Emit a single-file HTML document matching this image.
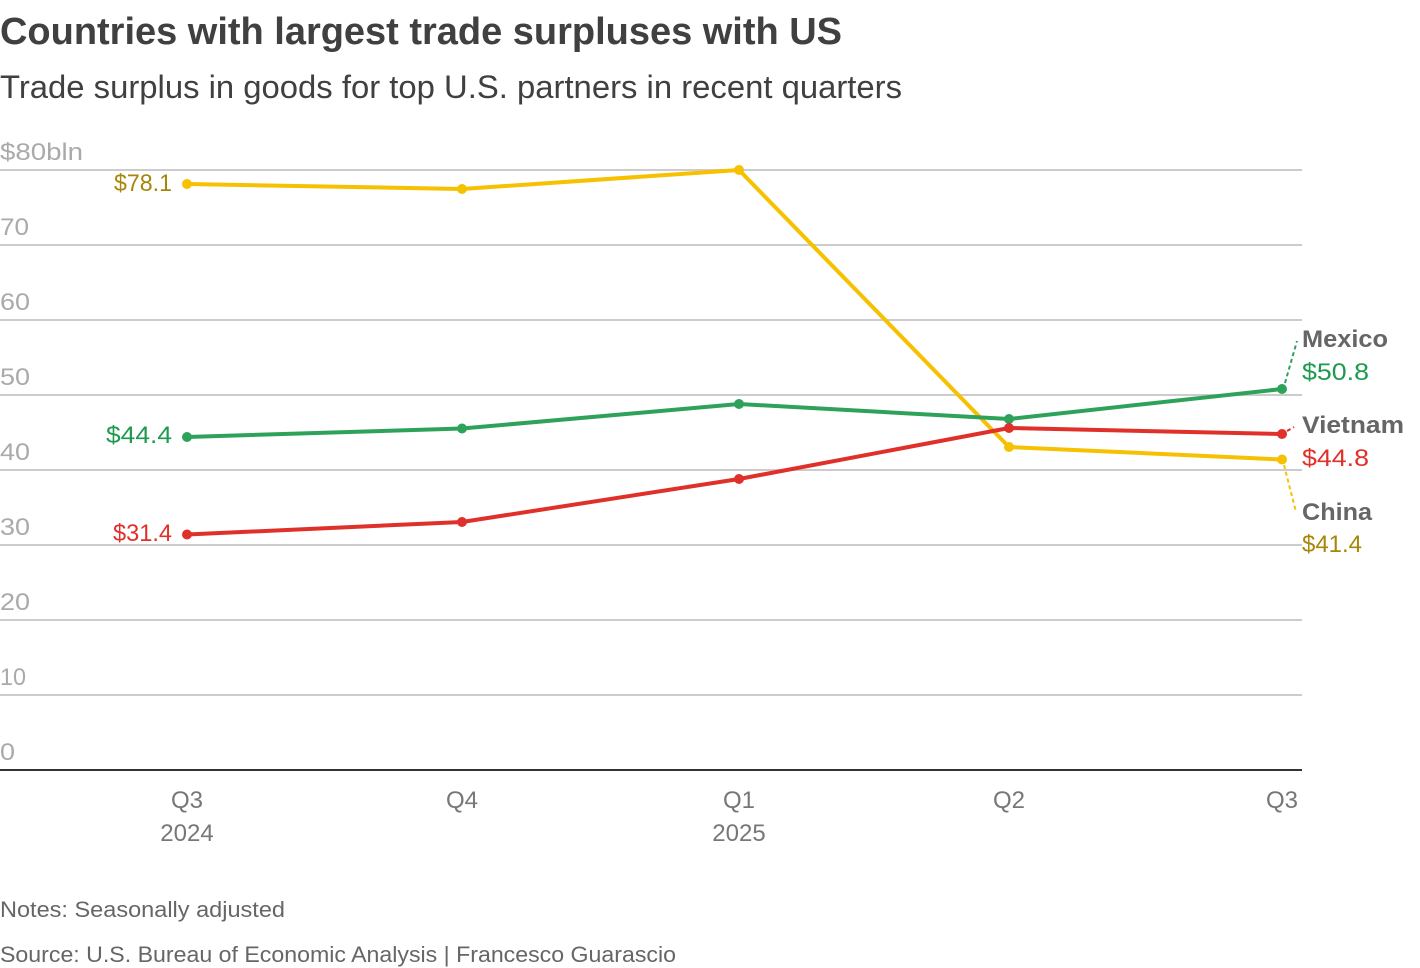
<!DOCTYPE html>
<html>
<head>
<meta charset="utf-8">
<style>
  html, body { margin: 0; padding: 0; background: #fff; }
  svg { display: block; }
  text { font-family: "Liberation Sans", "DejaVu Sans", sans-serif; }
</style>
</head>
<body>
<svg width="1420" height="968" viewBox="0 0 1420 968" xmlns="http://www.w3.org/2000/svg">
  <!-- Title -->
  <text x="0" y="44" font-size="38" font-weight="bold" fill="#404040" textLength="842" lengthAdjust="spacingAndGlyphs">Countries with largest trade surpluses with US</text>
  <text x="0" y="98" font-size="32" fill="#404040" textLength="902" lengthAdjust="spacingAndGlyphs">Trade surplus in goods for top U.S. partners in recent quarters</text>

  <!-- Gridlines -->
  <g stroke="#cccccc" stroke-width="2">
    <line x1="0" y1="170" x2="1302" y2="170"/>
    <line x1="0" y1="245" x2="1302" y2="245"/>
    <line x1="0" y1="320" x2="1302" y2="320"/>
    <line x1="0" y1="395" x2="1302" y2="395"/>
    <line x1="0" y1="470" x2="1302" y2="470"/>
    <line x1="0" y1="545" x2="1302" y2="545"/>
    <line x1="0" y1="620" x2="1302" y2="620"/>
    <line x1="0" y1="695" x2="1302" y2="695"/>
  </g>
  <line x1="0" y1="770" x2="1302" y2="770" stroke="#333333" stroke-width="2"/>

  <!-- Y labels -->
  <g font-size="24" fill="#aaaaaa">
    <text x="0" y="160" textLength="83" lengthAdjust="spacingAndGlyphs">$80bln</text>
    <text x="0" y="235" textLength="29" lengthAdjust="spacingAndGlyphs">70</text>
    <text x="0" y="310" textLength="30" lengthAdjust="spacingAndGlyphs">60</text>
    <text x="0" y="385" textLength="30" lengthAdjust="spacingAndGlyphs">50</text>
    <text x="0" y="460" textLength="30" lengthAdjust="spacingAndGlyphs">40</text>
    <text x="0" y="535" textLength="30" lengthAdjust="spacingAndGlyphs">30</text>
    <text x="0" y="610" textLength="30" lengthAdjust="spacingAndGlyphs">20</text>
    <text x="0" y="685" textLength="26" lengthAdjust="spacingAndGlyphs">10</text>
    <text x="0" y="760" textLength="15" lengthAdjust="spacingAndGlyphs">0</text>
  </g>

  <!-- X labels -->
  <g font-size="24" fill="#777777" text-anchor="middle">
    <text x="187" y="808">Q3</text>
    <text x="187" y="841">2024</text>
    <text x="462" y="808">Q4</text>
    <text x="739" y="808">Q1</text>
    <text x="739" y="841">2025</text>
    <text x="1009" y="808">Q2</text>
    <text x="1282" y="808">Q3</text>
  </g>

  <!-- Leader lines -->
  <line x1="1285" y1="383" x2="1297" y2="341" stroke="#2ea25a" stroke-width="2" stroke-dasharray="4,3"/>
  <line x1="1287" y1="431" x2="1294" y2="427" stroke="#e0302a" stroke-width="2" stroke-dasharray="4,3"/>
  <line x1="1284" y1="465" x2="1296" y2="512" stroke="#f5c100" stroke-width="2" stroke-dasharray="4,3"/>

  <!-- China -->
  <polyline points="187,184 462,189 739,170 1009,447 1282,459.5" fill="none" stroke="#f5c100" stroke-width="4" stroke-linejoin="round"/>
  <g fill="#f5c100">
    <circle cx="187" cy="184" r="5"/>
    <circle cx="462" cy="189" r="5"/>
    <circle cx="739" cy="170" r="5"/>
    <circle cx="1009" cy="447" r="5"/>
    <circle cx="1282" cy="459.5" r="5"/>
  </g>

  <!-- Mexico -->
  <polyline points="187,437 462,428.5 739,404 1009,419 1282,389" fill="none" stroke="#2ea25a" stroke-width="4" stroke-linejoin="round"/>
  <g fill="#2ea25a">
    <circle cx="187" cy="437" r="5"/>
    <circle cx="462" cy="428.5" r="5"/>
    <circle cx="739" cy="404" r="5"/>
    <circle cx="1009" cy="419" r="5"/>
    <circle cx="1282" cy="389" r="5"/>
  </g>

  <!-- Vietnam -->
  <polyline points="187,534.5 462,522 739,479 1009,428 1282,434" fill="none" stroke="#e0302a" stroke-width="4" stroke-linejoin="round"/>
  <g fill="#e0302a">
    <circle cx="187" cy="534.5" r="5"/>
    <circle cx="462" cy="522" r="5"/>
    <circle cx="739" cy="479" r="5"/>
    <circle cx="1009" cy="428" r="5"/>
    <circle cx="1282" cy="434" r="5"/>
  </g>

  <!-- Left value labels -->
  <g font-size="24" text-anchor="end">
    <text x="172" y="191" fill="#a8860a" textLength="58" lengthAdjust="spacingAndGlyphs">$78.1</text>
    <text x="172" y="443" fill="#1e9a4f" textLength="66" lengthAdjust="spacingAndGlyphs">$44.4</text>
    <text x="172" y="541" fill="#e0302a" textLength="59" lengthAdjust="spacingAndGlyphs">$31.4</text>
  </g>

  <!-- Right labels -->
  <g font-size="24">
    <text x="1302" y="347" font-weight="bold" fill="#666666" textLength="86" lengthAdjust="spacingAndGlyphs">Mexico</text>
    <text x="1302" y="380" fill="#1e9a4f" textLength="67" lengthAdjust="spacingAndGlyphs">$50.8</text>
    <text x="1302" y="433" font-weight="bold" fill="#666666" textLength="102" lengthAdjust="spacingAndGlyphs">Vietnam</text>
    <text x="1302" y="466" fill="#e0302a" textLength="67" lengthAdjust="spacingAndGlyphs">$44.8</text>
    <text x="1302" y="520" font-weight="bold" fill="#666666" textLength="70" lengthAdjust="spacingAndGlyphs">China</text>
    <text x="1302" y="552" fill="#a8860a" textLength="60" lengthAdjust="spacingAndGlyphs">$41.4</text>
  </g>

  <!-- Notes -->
  <g font-size="22" fill="#666666">
    <text x="0" y="917" textLength="285" lengthAdjust="spacingAndGlyphs">Notes: Seasonally adjusted</text>
    <text x="0" y="962" textLength="676" lengthAdjust="spacingAndGlyphs">Source: U.S. Bureau of Economic Analysis | Francesco Guarascio</text>
  </g>
</svg>
</body>
</html>
